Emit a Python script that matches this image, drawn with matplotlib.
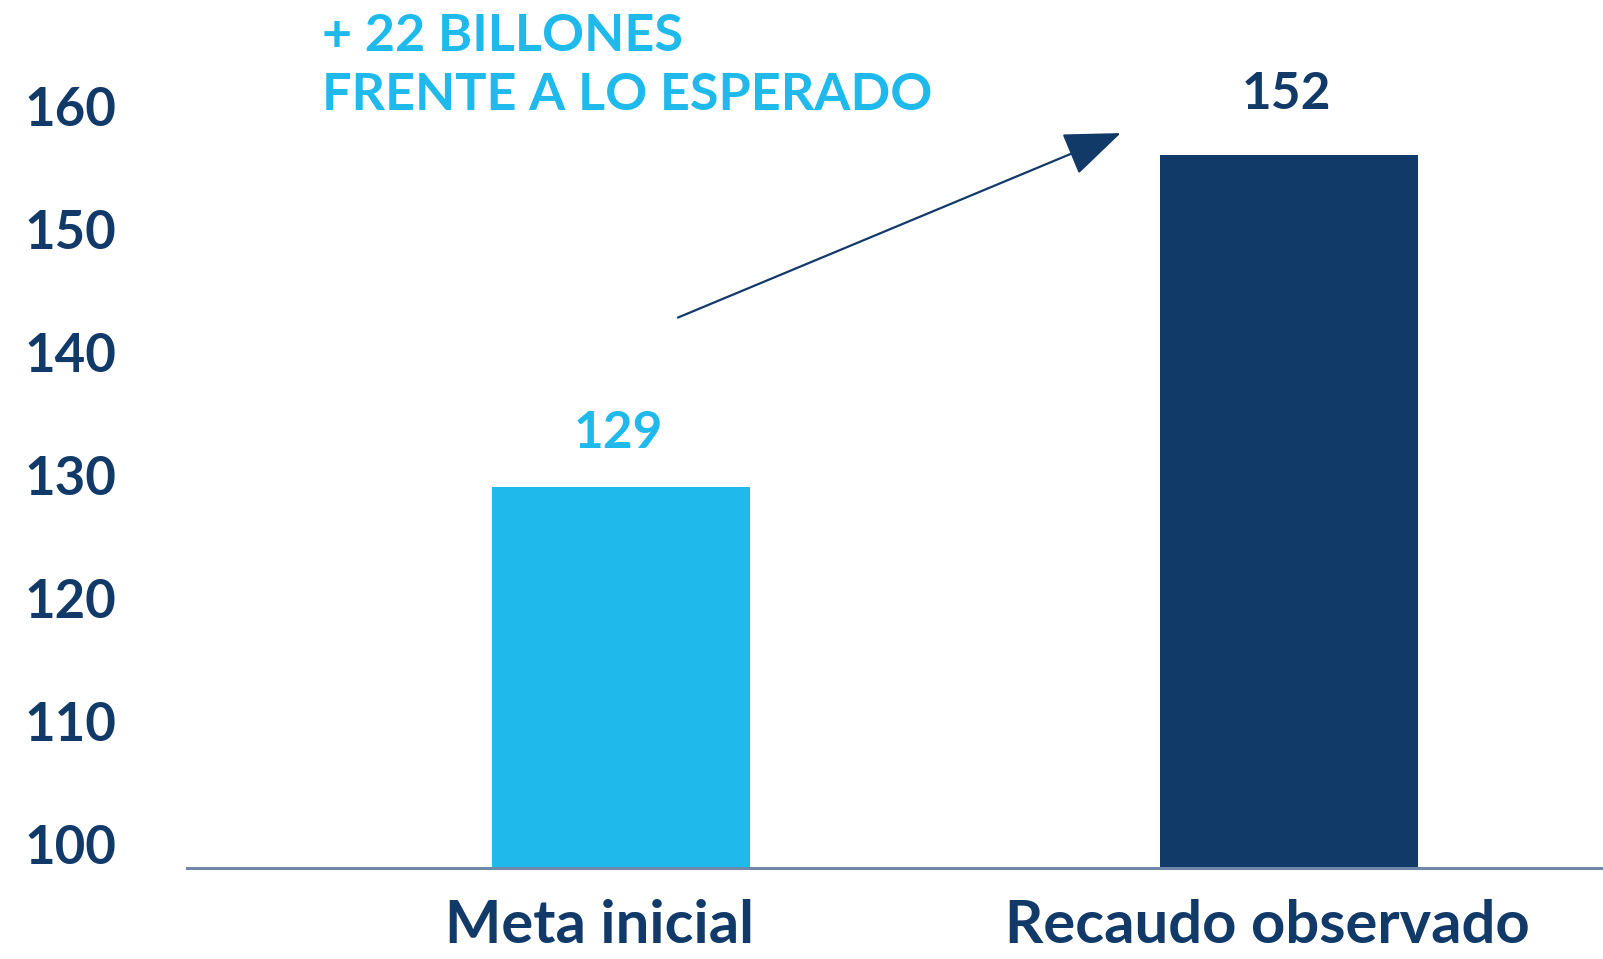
import matplotlib
matplotlib.use('Agg')
import matplotlib.pyplot as plt
import matplotlib.transforms as mtransforms

# datos
categorias = ['Meta inicial', 'Recaudo observado']
alturas = [129, 156]          # altura de las barras leida sobre el eje
etiquetas = ['129', '152']    # valores impresos sobre las barras
colores = ['#20B9EB', '#123A69']
ticks_y = [100, 110, 120, 130, 140, 150, 160]
nota = '+ 22 BILLONES\nFRENTE A LO ESPERADO'

azul_osc = '#123A69'
azul_cla = '#20B9EB'

plt.rcParams['font.family'] = ['Lato', 'DejaVu Sans']

fig = plt.figure(figsize=(16.03, 9.59), dpi=100)
ax = fig.add_axes([187 / 1603, 91 / 959, 1 - 187 / 1603, 823.5 / 959])

x = [0, 1]
ax.bar(x, alturas, width=258 / 668, color=colores)
ax.set_xlim(-0.65, 1.47)
ax.set_ylim(98.05, 165)

# etiquetas de valor (separacion distinta en cada barra, como en el original)
for xi, h, t, c, dy in zip(x, alturas, etiquetas, colores, [22, 27]):
    ax.annotate(t, xy=(xi, h), xytext=(-2, dy), textcoords='offset points',
                ha='center', va='bottom', fontsize=37, fontweight='bold', color=c)

# flecha
ax.annotate('', xy=(0.748, 157.8), xytext=(0.085, 142.8),
            arrowprops=dict(arrowstyle='-|>,head_length=3.6,head_width=1.4',
                            color=azul_osc, lw=1.6, shrinkA=0, shrinkB=0))

fig.text(322 / 1603, 1 - 13 / 959, nota, ha='left', va='top', fontsize=37.5,
         fontweight='bold', color=azul_cla, linespacing=1.32)

ax.set_yticks(ticks_y)
ax.set_yticklabels([str(t) for t in ticks_y], ha='left', fontsize=38,
                   fontweight='bold', color=azul_osc)
ax.tick_params(axis='y', length=0, pad=117)
ax.set_xticks(x)
ax.set_xticklabels(categorias, fontsize=43, fontweight='bold', color=azul_osc)
ax.tick_params(axis='x', length=0, pad=22)
desplaza = mtransforms.ScaledTranslation(-22 / 100, 0, fig.dpi_scale_trans)
for lab in ax.get_xticklabels():
    lab.set_transform(lab.get_transform() + desplaza)

for s in ['top', 'right', 'left']:
    ax.spines[s].set_visible(False)
ax.spines['bottom'].set_color('#7088A8')
ax.spines['bottom'].set_linewidth(2.2)

fig.savefig('out.png', dpi=100)
